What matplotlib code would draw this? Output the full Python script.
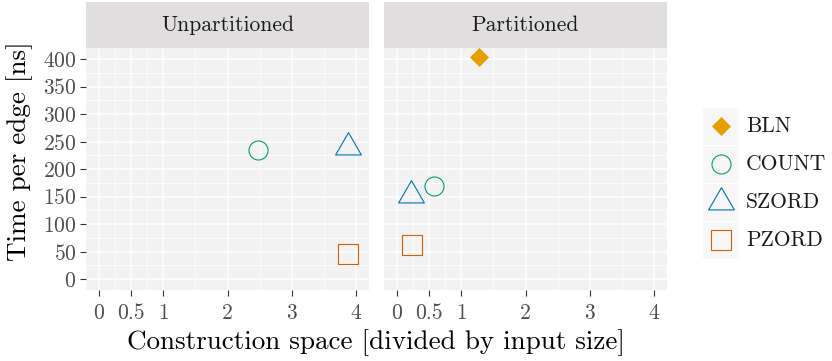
import numpy as np
import matplotlib
matplotlib.use("Agg")
import matplotlib.pyplot as plt
from matplotlib.path import Path

plt.rcParams['font.family'] = ['cmr10', 'DejaVu Serif']
plt.rcParams['mathtext.fontset'] = 'cm'
plt.rcParams['axes.formatter.use_mathtext'] = True

# data
methods = ["BLN", "COUNT", "SZORD", "PZORD"]
panels = ["Unpartitioned", "Partitioned"]
space = {
    "Unpartitioned": {"COUNT": 2.48, "SZORD": 3.88, "PZORD": 3.88},
    "Partitioned": {"BLN": 1.28, "COUNT": 0.57, "SZORD": 0.22, "PZORD": 0.23},
}
time_ns = {
    "Unpartitioned": {"COUNT": 235, "SZORD": 240, "PZORD": 45},
    "Partitioned": {"BLN": 403, "COUNT": 169, "SZORD": 153, "PZORD": 61},
}
x_ticks = [0, 0.5, 1, 2, 3, 4]
x_ticklabels = ["0", "0.5", "1", "2", "3", "4"]
y_ticks = [0, 50, 100, 150, 200, 250, 300, 350, 400]

colors = {"BLN": "#E69F00", "COUNT": "#009E73", "SZORD": "#0072B2", "PZORD": "#D55E00"}

# R-like triangle centred on its centroid
tri = Path([(0, 1.555), (1.347, -0.778), (-1.347, -0.778), (0, 1.555)],
           [Path.MOVETO, Path.LINETO, Path.LINETO, Path.CLOSEPOLY])
styles = {
    "BLN": dict(marker="D", ms=9.3, mfc=colors["BLN"], mec=colors["BLN"], mew=0.5),
    "COUNT": dict(marker="o", ms=13.7, mfc="none", mec=colors["COUNT"], mew=0.8),
    "SZORD": dict(marker=tri, ms=21.4, mfc="none", mec=colors["SZORD"], mew=0.8),
    "PZORD": dict(marker="s", ms=14.0, mfc="none", mec=colors["PZORD"], mew=0.8),
}

W, H = 832, 361
fig = plt.figure(figsize=(W / 100, H / 100), dpi=100)

def fr(x0, y0, x1, y1):
    return [x0 / W, 1 - y1 / H, (x1 - x0) / W, (y1 - y0) / H]

panel_px = [(86, 369), (384, 667)]
for i, (name, (px0, px1)) in enumerate(zip(panels, panel_px)):
    ax = fig.add_axes(fr(px0, 48, px1, 290))
    ax.set_facecolor("#F2F2F2")
    for s in ax.spines.values():
        s.set_visible(False)
    ax.set_xlim(-0.2, 4.2)
    ax.set_ylim(-20, 420)
    ax.set_xticks(x_ticks)
    ax.set_xticklabels(x_ticklabels)
    ax.set_xticks([0.25, 0.75, 1.5, 2.5, 3.5], minor=True)
    ax.set_yticks(y_ticks)
    ax.set_yticks(np.arange(25, 400, 50), minor=True)
    ax.grid(True, which="major", color="white", lw=1.1)
    ax.grid(True, which="minor", color="white", lw=0.55)
    ax.set_axisbelow(True)
    ax.tick_params(which="major", length=4.0, width=0.8, color="#333333",
                   labelcolor="#4D4D4D", labelsize=15.5)
    ax.tick_params(axis="x", which="major", pad=6)
    ax.tick_params(axis="y", which="major", pad=3)
    ax.tick_params(which="minor", length=0)
    if i == 1:
        ax.tick_params(axis="y", which="major", left=False, labelleft=False)
    for m in methods:
        if m in space[name]:
            ax.plot(space[name][m], time_ns[name][m], ls="none", **styles[m])

    strip = fig.add_axes(fr(px0, 2, px1, 47.5))
    strip.set_facecolor("#E0DEDF")
    strip.set_xticks([])
    strip.set_yticks([])
    for s in strip.spines.values():
        s.set_visible(False)
    strip.text(0.5, 0.5, name, ha="center", va="center", fontsize=15.5,
               color="#1A1A1A", transform=strip.transAxes)

fig.text(376 / W, 1 - 343 / H, "Construction space [divided by input size]",
         ha="center", va="center", fontsize=19.5)
fig.text(20 / W, 1 - 151 / H, "Time per edge [ns]", ha="center", va="center",
         rotation=90, fontsize=19.5)

# legend
lg = fig.add_axes(fr(700, 100, 832, 265))
lg.set_xlim(700, 832)
lg.set_ylim(265, 100)
lg.axis("off")
key_tops = [108, 146, 184, 222]
for m, top in zip(methods, key_tops):
    lg.add_patch(plt.Rectangle((703, top), 36, 36.5, color="#F7F7F7", lw=0))
    lg.plot(721, top + 18.25, ls="none", **styles[m])
    lg.text(746, top + 18.25, m, ha="left", va="center", fontsize=15.5, color="#1A1A1A")

fig.savefig("out.png", dpi=100)
